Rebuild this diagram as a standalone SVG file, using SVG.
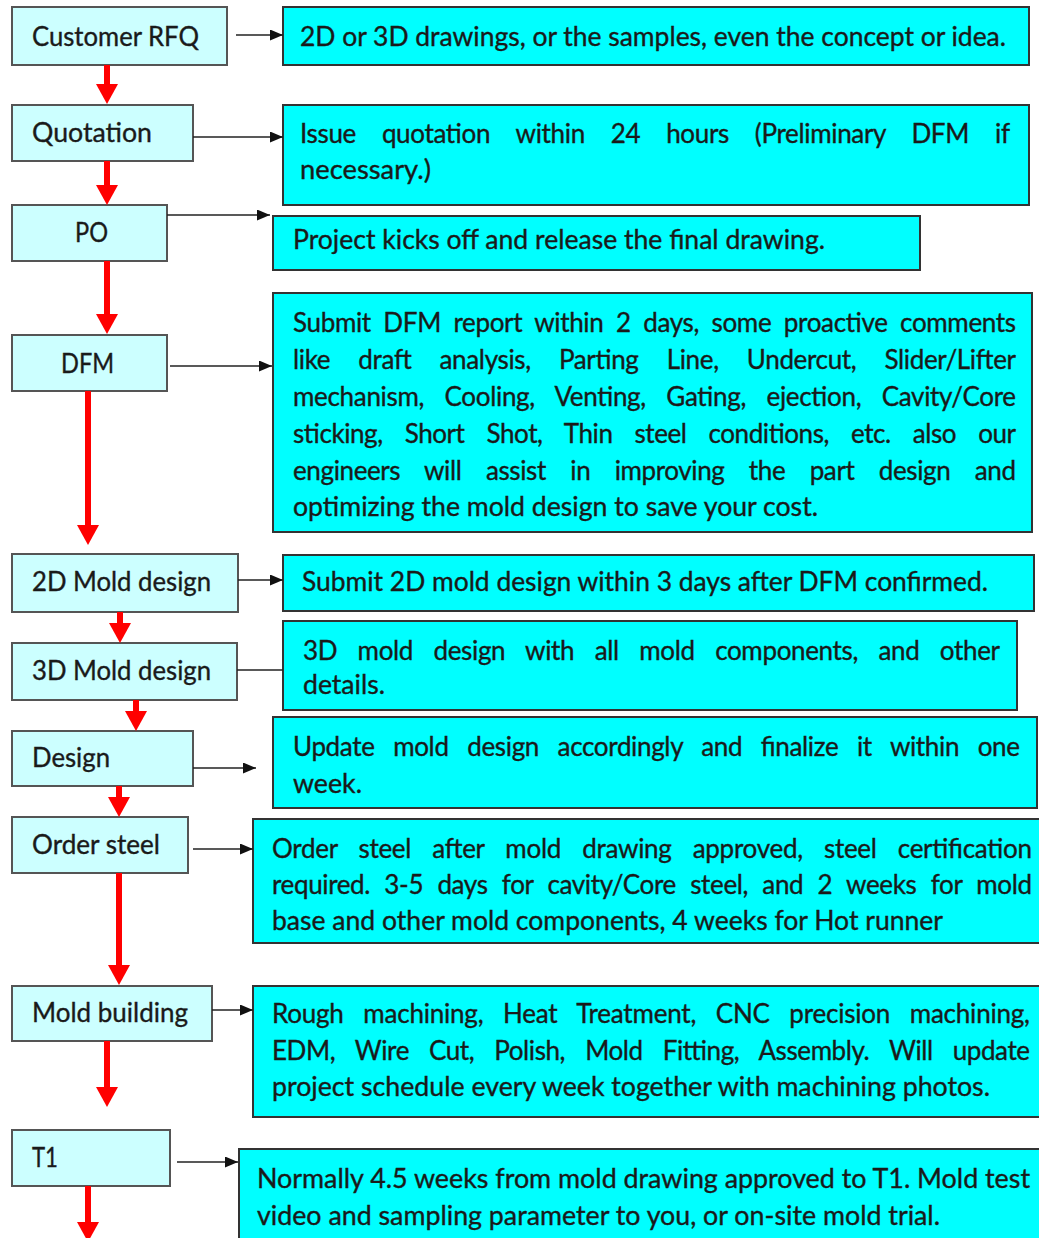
<svg xmlns="http://www.w3.org/2000/svg" width="1039" height="1238" viewBox="0 0 1039 1238">
<style>
.lb{fill:#ccffff;stroke:#555;stroke-width:2}
.rb{fill:#00ffff;stroke:#333;stroke-width:2}
.t{font-family:Lato,"Liberation Sans",sans-serif;font-size:26px;fill:#1a1a1a;stroke:#1a1a1a;stroke-width:0.35}
.k{stroke:#222;stroke-width:1.6;fill:none}
.ka{stroke:#222;stroke-width:1.6;fill:none;marker-end:url(#kh)}
.r{stroke:#ff0000;stroke-width:6;fill:none;marker-end:url(#rh)}
</style>
<defs>
<marker id="kh" viewBox="0 0 13 11" markerUnits="userSpaceOnUse" markerWidth="13" markerHeight="11" refX="13" refY="5.5" orient="auto"><path d="M0,0 L13,5.5 L0,11 z" fill="#111"/></marker>
<marker id="rh" viewBox="0 0 20 22" markerUnits="userSpaceOnUse" markerWidth="20" markerHeight="22" refX="1" refY="11" orient="auto"><path d="M0,0 L20,11 L0,22 z" fill="#ff0000"/></marker>
</defs>
<rect width="1039" height="1238" fill="#fff"/>

<g id="n-rfq"><rect class="lb" x="12" y="7" width="215" height="58"/><text class="t" x="32" y="46" textLength="167" lengthAdjust="spacingAndGlyphs">Customer RFQ</text></g>
<g id="n-quotation"><rect class="lb" x="12" y="105" width="181" height="56"/><text class="t" x="32" y="142" textLength="120" lengthAdjust="spacingAndGlyphs">Quotation</text></g>
<g id="n-po"><rect class="lb" x="12" y="205" width="155" height="56"/><text class="t" x="75" y="242" textLength="33" lengthAdjust="spacingAndGlyphs">PO</text></g>
<g id="n-dfm"><rect class="lb" x="12" y="335" width="155" height="56"/><text class="t" x="61" y="373" textLength="53" lengthAdjust="spacingAndGlyphs">DFM</text></g>
<g id="n-2d"><rect class="lb" x="12" y="554" width="226" height="58"/><text class="t" x="32" y="591" textLength="179" lengthAdjust="spacingAndGlyphs">2D Mold design</text></g>
<g id="n-3d"><rect class="lb" x="12" y="643" width="225" height="57"/><text class="t" x="32" y="680" textLength="179" lengthAdjust="spacingAndGlyphs">3D Mold design</text></g>
<g id="n-design"><rect class="lb" x="12" y="731" width="181" height="55"/><text class="t" x="32" y="767" textLength="78" lengthAdjust="spacingAndGlyphs">Design</text></g>
<g id="n-order"><rect class="lb" x="12" y="817" width="176" height="56"/><text class="t" x="32" y="854" textLength="128" lengthAdjust="spacingAndGlyphs">Order steel</text></g>
<g id="n-mold"><rect class="lb" x="12" y="986" width="200" height="55"/><text class="t" x="32" y="1022" textLength="156" lengthAdjust="spacingAndGlyphs">Mold building</text></g>
<g id="n-t1"><rect class="lb" x="12" y="1130" width="158" height="56"/><text class="t" x="32" y="1167" textLength="26" lengthAdjust="spacingAndGlyphs">T1</text></g>

<g id="d-rfq"><rect class="rb" x="283" y="7" width="746" height="58"/>
<text class="t" x="300" y="46" textLength="706" lengthAdjust="spacingAndGlyphs">2D or 3D drawings, or the samples, even the concept or idea.</text></g>
<g id="d-quotation"><rect class="rb" x="283" y="105" width="746" height="100"/>
<text class="t" x="300" y="143" word-spacing="19.6" textLength="710" lengthAdjust="spacing">Issue quotation within 24 hours (Preliminary DFM if</text>
<text class="t" x="300" y="179" textLength="131" lengthAdjust="spacingAndGlyphs">necessary.)</text></g>
<g id="d-po"><rect class="rb" x="273" y="216" width="647" height="54"/>
<text class="t" x="293" y="249" textLength="532" lengthAdjust="spacingAndGlyphs">Project kicks off and release the final drawing.</text></g>
<g id="d-dfm"><rect class="rb" x="273" y="293" width="759" height="239"/>
<text class="t" x="293" y="332" word-spacing="6.2" textLength="723" lengthAdjust="spacing">Submit DFM report within 2 days, some proactive comments</text>
<text class="t" x="293" y="369" word-spacing="21.8" textLength="723" lengthAdjust="spacing">like draft analysis, Parting Line, Undercut, Slider/Lifter</text>
<text class="t" x="293" y="406" word-spacing="14.1" textLength="723" lengthAdjust="spacing">mechanism, Cooling, Venting, Gating, ejection, Cavity/Core</text>
<text class="t" x="293" y="443" word-spacing="15.8" textLength="723" lengthAdjust="spacing">sticking, Short Shot, Thin steel conditions, etc. also our</text>
<text class="t" x="293" y="480" word-spacing="18.1" textLength="723" lengthAdjust="spacing">engineers will assist in improving the part design and</text>
<text class="t" x="293" y="516" textLength="525" lengthAdjust="spacingAndGlyphs">optimizing the mold design to save your cost.</text></g>
<g id="d-2d"><rect class="rb" x="283" y="555" width="751" height="56"/>
<text class="t" x="302" y="591" textLength="686" lengthAdjust="spacingAndGlyphs">Submit 2D mold design within 3 days after DFM confirmed.</text></g>
<g id="d-3d"><rect class="rb" x="283" y="621" width="734" height="89"/>
<text class="t" x="303" y="660" word-spacing="14.1" textLength="697" lengthAdjust="spacing">3D mold design with all mold components, and other</text>
<text class="t" x="303" y="694" textLength="82" lengthAdjust="spacingAndGlyphs">details.</text></g>
<g id="d-design"><rect class="rb" x="273" y="717" width="764" height="91"/>
<text class="t" x="293" y="756" word-spacing="12.3" textLength="727" lengthAdjust="spacing">Update mold design accordingly and finalize it within one</text>
<text class="t" x="293" y="793" textLength="69" lengthAdjust="spacingAndGlyphs">week.</text></g>
<g id="d-order"><rect class="rb" x="253" y="819" width="800" height="124"/>
<text class="t" x="272" y="858" word-spacing="14.7" textLength="760" lengthAdjust="spacing">Order steel after mold drawing approved, steel certification</text>
<text class="t" x="272" y="894" word-spacing="8" textLength="760" lengthAdjust="spacing">required. 3-5 days for cavity/Core steel, and 2 weeks for mold</text>
<text class="t" x="272" y="930" textLength="671" lengthAdjust="spacingAndGlyphs">base and other mold components, 4 weeks for Hot runner</text></g>
<g id="d-mold"><rect class="rb" x="253" y="986" width="800" height="131"/>
<text class="t" x="272" y="1023" word-spacing="13.2" textLength="758" lengthAdjust="spacing">Rough machining, Heat Treatment, CNC precision machining,</text>
<text class="t" x="272" y="1060" word-spacing="13.8" textLength="758" lengthAdjust="spacing">EDM, Wire Cut, Polish, Mold Fitting, Assembly. Will update</text>
<text class="t" x="272" y="1096" textLength="718" lengthAdjust="spacingAndGlyphs">project schedule every week together with machining photos.</text></g>
<g id="d-t1"><rect class="rb" x="239" y="1149" width="810" height="100"/>
<text class="t" x="257" y="1188" textLength="773" lengthAdjust="spacingAndGlyphs">Normally 4.5 weeks from mold drawing approved to T1. Mold test</text>
<text class="t" x="257" y="1225" textLength="683" lengthAdjust="spacingAndGlyphs">video and sampling parameter to you, or on-site mold trial.</text></g>

<g id="connectors">
<path class="ka" d="M236,35 H283"/>
<path class="ka" d="M193,137 H283"/>
<path class="ka" d="M167,215 H270"/>
<path class="ka" d="M170,366 H272"/>
<path class="ka" d="M238,580 H283"/>
<path class="k" d="M237,670 H283"/>
<path class="ka" d="M193,768 H256"/>
<path class="ka" d="M193,849 H253"/>
<path class="ka" d="M212,1010 H253"/>
<path class="ka" d="M177,1162 H238"/>
<path class="r" d="M107,65 V85"/>
<path class="r" d="M107,161 V186"/>
<path class="r" d="M107,261 V315"/>
<path class="r" d="M88,391 V526"/>
<path class="r" d="M120,612 V624"/>
<path class="r" d="M136,700 V712"/>
<path class="r" d="M119,786 V798"/>
<path class="r" d="M119,873 V966"/>
<path class="r" d="M107,1041 V1088"/>
<path class="r" d="M88,1186 V1223"/>
</g>
</svg>
